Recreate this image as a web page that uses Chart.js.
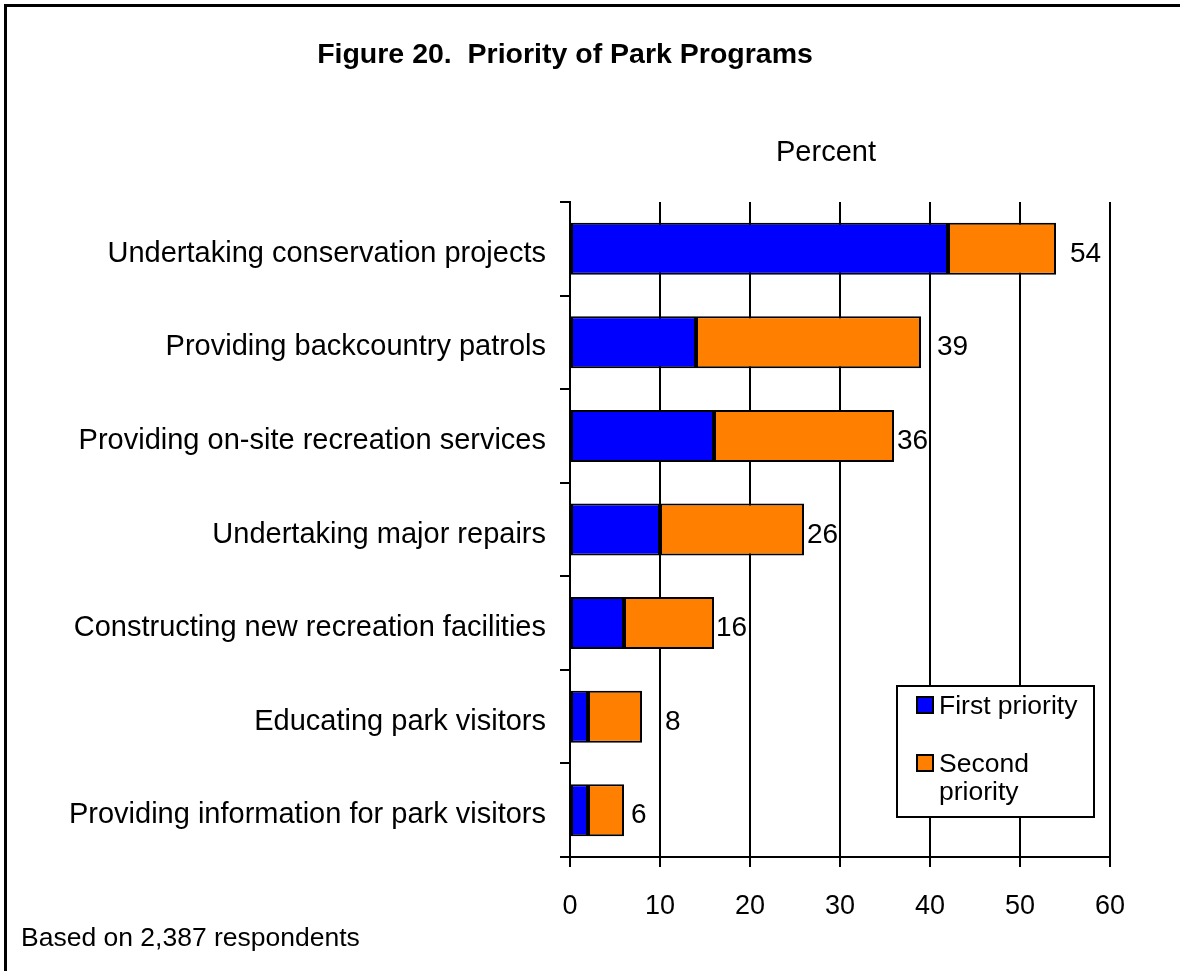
<!DOCTYPE html>
<html>
<head>
<meta charset="utf-8">
<title>Priority of Park Programs</title>
<script src="https://cdn.jsdelivr.net/npm/chart.js@4/dist/chart.umd.min.js"></script>
<style>
  html, body { margin: 0; padding: 0; background: #ffffff; }
  canvas { display: block; }
</style>
</head>
<body>
<canvas id="chart" width="1180" height="971"></canvas>
<script>
// Park programs, top to bottom
const programs = [
  'Undertaking conservation projects',
  'Providing backcountry patrols',
  'Providing on-site recreation services',
  'Undertaking major repairs',
  'Constructing new recreation facilities',
  'Educating park visitors',
  'Providing information for park visitors'
];
// Percent of respondents naming each program
const firstPriority  = [42, 14, 16, 10, 6, 2, 2];
const secondPriority = [12, 25, 20, 16, 10, 6, 4];
// Percent axis ticks
const percentTicks = [0, 10, 20, 30, 40, 50, 60];

const seriesNames = ['First priority', 'Second priority'];
const titleText = 'Figure 20.  Priority of Park Programs';
const axisTitle = 'Percent';
const footnote = 'Based on 2,387 respondents';

const FONT = "'Liberation Sans', Arial, Helvetica, sans-serif";

// Frame, headings, footnote and the boxed legend
const decorPlugin = {
  id: 'decor',
  beforeDraw(chart) {
    const ctx = chart.ctx;
    ctx.save();
    ctx.fillStyle = '#ffffff';
    ctx.fillRect(0, 0, chart.width, chart.height);
    ctx.restore();
  },
  afterDraw(chart) {
    const ctx = chart.ctx;
    ctx.save();
    // outer frame (top and left edges)
    ctx.strokeStyle = '#000';
    ctx.lineWidth = 3;
    ctx.beginPath();
    ctx.moveTo(5.5, chart.height);
    ctx.lineTo(5.5, 5.5);
    ctx.lineTo(chart.width, 5.5);
    ctx.stroke();

    ctx.fillStyle = '#000';
    ctx.textBaseline = 'alphabetic';
    ctx.textAlign = 'center';
    ctx.font = 'bold 28.5px ' + FONT;
    ctx.fillText(titleText, 565, 63);

    ctx.font = '29px ' + FONT;
    ctx.fillText(axisTitle, 826, 161);

    ctx.textAlign = 'left';
    ctx.font = '26.5px ' + FONT;
    ctx.fillText(footnote, 21, 946);

    // legend
    const lg = { x: 897, y: 686, w: 197, h: 131 };
    ctx.fillStyle = '#ffffff';
    ctx.fillRect(lg.x, lg.y, lg.w, lg.h);
    ctx.strokeStyle = '#000';
    ctx.lineWidth = 2;
    ctx.strokeRect(lg.x, lg.y, lg.w, lg.h);

    ctx.font = '26.5px ' + FONT;
    const itemTops = [697, 755];
    const lineGap = 28;
    chart.data.datasets.forEach((ds, i) => {
      const top = itemTops[i];
      ctx.fillStyle = ds.backgroundColor;
      ctx.fillRect(917, top, 16, 16);
      ctx.strokeStyle = '#000';
      ctx.lineWidth = 2;
      ctx.strokeRect(917, top, 16, 16);
      // wrap the series name within the box
      const words = ds.label.split(' ');
      const lines = [];
      let cur = '';
      words.forEach(w => {
        const test = cur ? cur + ' ' + w : w;
        if (ctx.measureText(test).width > 150 && cur) { lines.push(cur); cur = w; }
        else cur = test;
      });
      lines.push(cur);
      ctx.fillStyle = '#000';
      lines.forEach((ln, k) => ctx.fillText(ln, 939, top + 17 + k * lineGap));
    });
    ctx.restore();
  }
};

// Total percent printed beside each stacked bar
const totalsPlugin = {
  id: 'totals',
  afterDatasetsDraw(chart, args, opts) {
    const ctx = chart.ctx;
    const lastIdx = chart.data.datasets.length - 1;
    const meta = chart.getDatasetMeta(lastIdx);
    ctx.save();
    ctx.font = '28px ' + FONT;
    ctx.fillStyle = '#000';
    ctx.textAlign = 'left';
    ctx.textBaseline = 'alphabetic';
    meta.data.forEach((bar, i) => {
      const total = chart.data.datasets.reduce((s, ds) => s + ds.data[i], 0);
      const nudge = (opts.nudge && opts.nudge[i]) || 4;
      ctx.fillText(String(total), bar.x + nudge, bar.y + 13);
    });
    ctx.restore();
  }
};

new Chart(document.getElementById('chart'), {
  type: 'bar',
  data: {
    labels: programs,
    datasets: [
      {
        label: seriesNames[0],
        data: firstPriority,
        backgroundColor: '#0000ff',
        borderColor: '#000000',
        borderWidth: 2,
        borderSkipped: false
      },
      {
        label: seriesNames[1],
        data: secondPriority,
        backgroundColor: '#ff8000',
        borderColor: '#000000',
        borderWidth: 2,
        borderSkipped: false
      }
    ]
  },
  options: {
    indexAxis: 'y',
    responsive: false,
    animation: false,
    devicePixelRatio: 1,
    layout: { padding: { top: 202, left: 0, right: 70, bottom: 0 } },
    datasets: { bar: { categoryPercentage: 1, barPercentage: 0.556 } },
    plugins: {
      legend: { display: false },
      title: { display: false },
      tooltip: { enabled: false },
      totals: { nudge: [14, 16, 3, 3, 2, 23, 7] }
    },
    scales: {
      x: {
        stacked: true,
        min: percentTicks[0],
        max: percentTicks[percentTicks.length - 1],
        afterBuildTicks(scale) {
          scale.ticks = percentTicks.map(v => ({ value: v }));
        },
        afterFit(scale) { scale.height = 114; },
        grid: {
          color: '#000',
          lineWidth: 2,
          drawTicks: true,
          tickLength: 10,
          tickColor: '#000'
        },
        border: { display: true, color: '#000', width: 2 },
        ticks: {
          color: '#000',
          font: { family: FONT, size: 27 },
          padding: 23,
          maxRotation: 0
        }
      },
      y: {
        stacked: true,
        afterFit(scale) { scale.width = 570; },
        grid: {
          offset: true,
          drawOnChartArea: false,
          drawTicks: true,
          tickLength: 10,
          color: '#000',
          lineWidth: 2
        },
        border: { display: true, color: '#000', width: 2 },
        ticks: {
          color: '#000',
          font: { family: FONT, size: 29 },
          padding: 14,
          labelOffset: 5,
          autoSkip: false
        }
      }
    }
  },
  plugins: [decorPlugin, totalsPlugin]
});
</script>
</body>
</html>
